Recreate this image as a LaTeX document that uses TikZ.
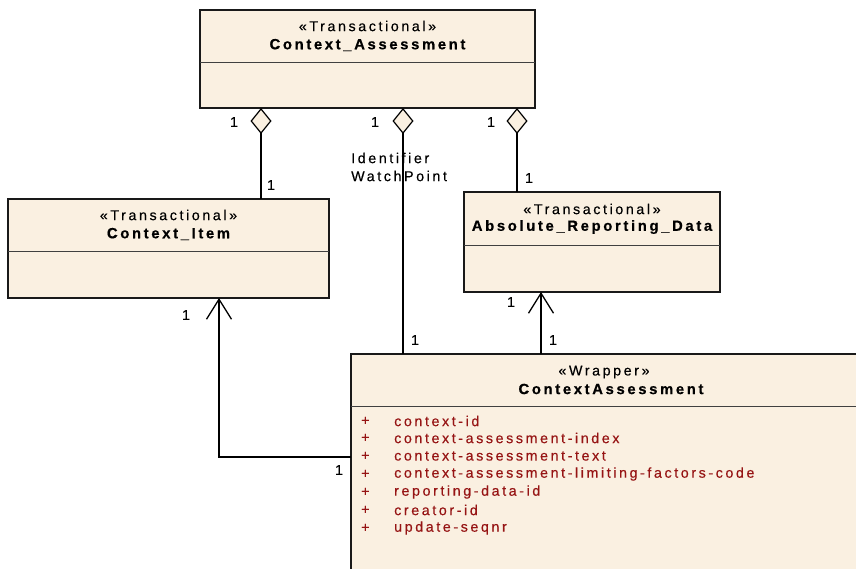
\documentclass[tikz,border=0pt]{standalone}
\usepackage{fontspec}
\setmainfont{Liberation Sans}[LetterSpace=18,
  UprightFeatures={FakeBold=0.35},
  BoldFeatures={FakeBold=0.6}]
\usetikzlibrary{arrows.meta,calc}
\definecolor{umlfill}{RGB}{250,240,225}
\definecolor{attrred}{RGB}{150,20,20}
\begin{document}
\begin{tikzpicture}[x=1pt,y=-1pt,
  box/.style={draw=black!90, line width=1.2pt, fill=umlfill, anchor=north west, inner sep=0pt, outer sep=0pt},
  divider/.style={draw=black!75, line width=1pt},
  stereo/.style={font=\fontsize{14.3}{16}\selectfont, inner sep=0pt},
  title/.style={font=\fontsize{14.8}{16}\selectfont\bfseries, inner sep=0pt},
  mult/.style={font=\fontsize{14.3}{16}\selectfont, inner sep=0pt},
  attrtxt/.style={font=\fontsize{14.3}{16}\selectfont, text=attrred, inner sep=0pt, anchor=west},
  link/.style={line width=1.3pt, draw=black},
  agg/.style={link, {Diamond[length=26pt,width=21pt,fill=umlfill,line width=1.2pt]}-},
  nav/.style={link, -{Straight Barb[length=20pt,width=25pt,line width=1.3pt]}}]
\useasboundingbox (0,0) rectangle (856,568);
\begin{scope}
\clip (0,0) rectangle (856,568);
% boxes
\node[box, minimum width=335pt, minimum height=98pt] (ca) at (200,10) {};
\node[box, minimum width=321pt, minimum height=99pt] (ci) at (8,199) {};
\node[box, minimum width=256pt, minimum height=100pt] (ard) at (464,192) {};
\node[box, minimum width=520pt, minimum height=230pt] (wr) at (351,354) {};
% dividers
\draw[divider] (ca.west |- 0,62) -- (ca.east |- 0,62);
\draw[divider] (ci.west |- 0,251) -- (ci.east |- 0,251);
\draw[divider] (ard.west |- 0,245) -- (ard.east |- 0,245);
\draw[divider] (wr.west |- 0,406) -- (wr.east |- 0,406);
\end{scope}
% texts
\node[stereo] (ca-s) at (ca.north |- 0,26) {«Transactional»};
\node[title] (ca-t) at (ca.north |- 0,45) {Context\_Assessment};
\node[stereo] (ci-s) at (ci.north |- 0,215) {«Transactional»};
\node[title] (ci-t) at (ci.north |- 0,234) {Context\_Item};
\node[stereo] (ard-s) at (ard.north |- 0,209) {«Transactional»};
\node[title] (ard-t) at (ard.north |- 0,227) {Absolute\_Reporting\_Data};
\node[stereo] (wr-s) at (604,372) {«Wrapper»};
\node[title] (wr-t) at (611,389) {ContextAssessment};
% attributes
\foreach \i/\y/\t in {1/421/context-id,2/438/context-assessment-index,3/456/context-assessment-text,4/474/context-assessment-limiting-factors-code,5/492/reporting-data-id,6/510/creator-id,7/528/update-seqnr}{
  \node[attrtxt] (p\i) at (361,\y) {+};
  \node[attrtxt] (at\i) at (394,\y) {\t};
}
% connector anchors
\coordinate (a1) at ($(ca.south west)+(61,0)$);
\coordinate (a2) at ($(ca.south west)+(203,0)$);
\coordinate (a3) at ($(ca.south west)+(317,0)$);
\coordinate (b1) at ($(wr.north west)+(190,0)$);
\coordinate (c1) at ($(wr.north west)+(0,103)$);
\coordinate (c2) at ($(ci.south west)+(211,0)$);
% connectors
\draw[agg] (a1) -- (a1 |- ci.north);
\draw[agg] (a2) -- (a2 |- wr.north);
\draw[agg] (a3) -- (a3 |- ard.north);
\draw[nav] (b1) -- (b1 |- ard.south);
\draw[nav] (c1) -| (c2);
% labels
\node[mult] (m1) at (234,122) {1};
\node[mult] (m2) at (375,122) {1};
\node[mult] (m3) at (491,122) {1};
\node[mult] (m4) at (271,185) {1};
\node[mult] (m5) at (529,178) {1};
\node[mult] (m6) at (186,315) {1};
\node[mult] (m7) at (339,470) {1};
\node[mult] (m8) at (415,340) {1};
\node[mult] (m9) at (511,302) {1};
\node[mult] (m10) at (553,340) {1};
\node[mult, anchor=west] (lb1) at (351,158) {Identifier};
\node[mult, anchor=west] (lb2) at (351,176) {WatchPoint};
\end{tikzpicture}
\end{document}
